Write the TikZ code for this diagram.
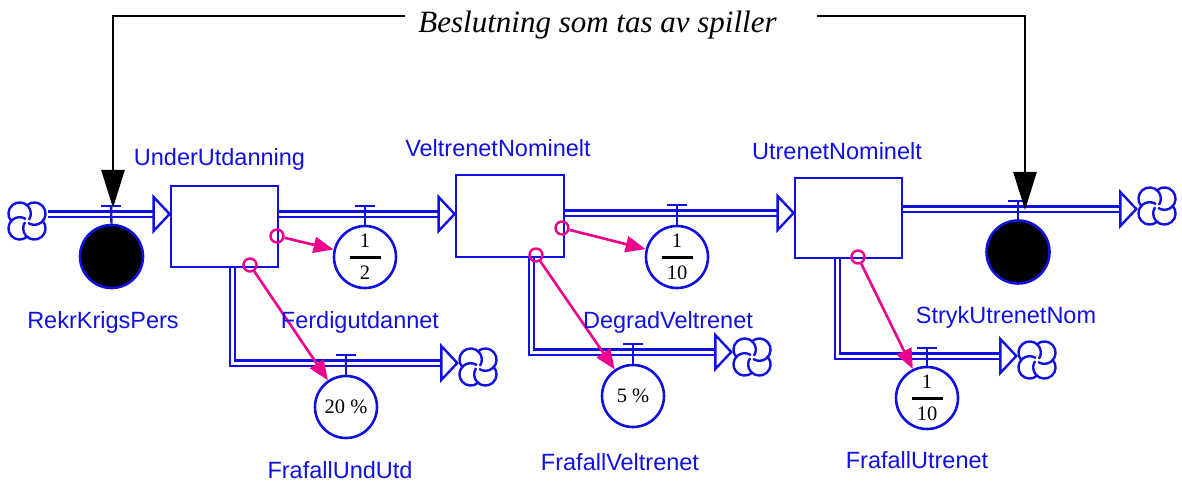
\documentclass[tikz,border=0pt]{standalone}
\usepackage{fontspec}
\setmainfont{Liberation Serif}
\setsansfont{Liberation Sans}
\usetikzlibrary{arrows.meta,calc}

\definecolor{flowblue}{RGB}{16,16,224}
\definecolor{linkpink}{RGB}{236,0,140}

% stacked fraction with a heavy bar, as used inside the auxiliaries
\newcommand{\fracstack}[2]{\vbox{\hbox to 31pt{\hss#1\hss}\kern8.5pt\hrule height 2.8pt\kern7pt\hbox to 31pt{\hss#2\hss}}}

\tikzset{
  % hollow arrow head at the end of a flow pipe, tip at the pic origin
  pipehead/.pic={\draw[draw=flowblue, line width=2.4pt, fill=white, line join=miter] (0,0) -- (-16,-17) -- (-16,17) -- cycle;},
  % source / sink cloud: four overlapping lobes in a pinwheel
  cloudnode/.style={rectangle, minimum size=41pt, inner sep=0pt,
    path picture={
      \foreach \a in {0,90,180,270}{
        \draw[flowblue, line width=2.4pt]
          ($(path picture bounding box.center)+({\a+225}:10.4)+({\a+139}:11.2)$)
          arc[start angle=\a+139, delta angle=255, radius=11.2];
      }
    }},
  stock/.style={rectangle, draw=flowblue, line width=2.8pt, inner sep=0pt},
  pipe/.style={draw=flowblue, double=white, double distance=3pt, line width=2.1pt, line join=miter},
  valvebar/.style={draw=flowblue, line width=2.4pt},
  aux/.style={circle, draw=flowblue, line width=2.6pt, minimum size=62pt, inner sep=0pt,
    font=\fontsize{20.5}{24}\selectfont},
  rate/.style={circle, draw=flowblue, fill=black, line width=2.6pt, minimum size=63pt, inner sep=0pt},
  tap/.style={circle, draw=linkpink, line width=2.4pt, minimum size=13pt, inner sep=0pt},
  link/.style={draw=linkpink, line width=2.6pt, -{Triangle[length=20pt,width=16pt]}},
  decision/.style={draw=black, line width=2.4pt, -{Triangle[length=38pt,width=23pt]}},
  lbl/.style={text=flowblue, font=\sffamily\fontsize{23.5}{28}\selectfont, anchor=base, inner sep=0pt},
}

\begin{document}
\begin{tikzpicture}[x=1pt,y=-1pt]
\useasboundingbox (0,0) rectangle (1182,481);

% ---- stocks
\node[stock, minimum width=107pt, minimum height=81pt] (s1) at (224.5,226.5) {};
\node[stock, minimum width=108pt, minimum height=82pt] (s2) at (510,216) {};
\node[stock, minimum width=107pt, minimum height=80pt] (s3) at (848.5,218) {};

% ---- clouds
\node[cloudnode] (k0)  at (27,221) {};
\node[cloudnode] (k1b) at (478,367) {};
\node[cloudnode] (k2b) at (752,357) {};
\node[cloudnode] (k3)  at (1157,206) {};
\node[cloudnode] (k3b) at (1037,360) {};

% ---- valve positions on the pipes
\coordinate (v0)  at (111,214);
\coordinate (v1)  at (365,214);
\coordinate (v1b) at (346,363);
\coordinate (v2)  at (677,213);
\coordinate (v2b) at (633,352);
\coordinate (v3)  at (1018,209);
\coordinate (v3b) at (927,356);

% ---- rates and auxiliaries under the valves
\node[rate] (r0) at (111.5,256.5) {};
\node[aux]  (c1) at (365,257) {\fracstack{1}{2}};
\node[aux]  (c1b) at (346,407) {20 \%};
\node[aux]  (c2) at (677,257) {\fracstack{1}{10}};
\node[aux]  (c2b) at (633,396) {5 \%};
\node[rate] (r3) at (1018,252) {};
\node[aux]  (c3b) at (927,398) {\fracstack{1}{10}};

% ---- pipes
\draw[pipe] (k0.east |- v0) -- ($(s1.west |- v0)+(-14,0)$);
\pic at (s1.west |- v0) {pipehead};
\draw[pipe] (s1.east |- v1) -- ($(s2.west |- v1)+(-14,0)$);
\pic at (s2.west |- v1) {pipehead};
\draw[pipe] (s2.east |- v2) -- ($(s3.west |- v2)+(-14,0)$);
\pic at (s3.west |- v2) {pipehead};
\draw[pipe] (s3.east |- v3) -- ($(k3.west |- v3)+(-14,0)$);
\pic at (k3.west |- v3) {pipehead};

\draw[pipe] ($(s1.south west)+(63,0)$) |- ($(k1b.west |- v1b)+(-14,0)$);
\pic at (k1b.west |- v1b) {pipehead};
\draw[pipe] ($(s2.south west)+(76.5,0)$) |- ($(k2b.west |- v2b)+(-14,0)$);
\pic at (k2b.west |- v2b) {pipehead};
\draw[pipe] ($(s3.south west)+(44,0)$) |- ($(k3b.west |- v3b)+(-14,0)$);
\pic at (k3b.west |- v3b) {pipehead};

% ---- valves
\foreach \v/\c in {v0/r0, v1/c1, v1b/c1b, v2/c2, v2b/c2b, v3/r3, v3b/c3b}{
  \draw[valvebar] ($(\v)+(-10,-8)$) -- ($(\v)+(10,-8)$);
  \draw[valvebar] ($(\v)+(0,-8)$) -- (\c.north);
}

% ---- information links
\node[tap] (t1)  at (277,236) {};
\node[tap] (t1b) at (250,265) {};
\node[tap] (t2)  at (562,228) {};
\node[tap] (t2b) at (536,255) {};
\node[tap] (t3b) at (858,257) {};
\draw[link] (t1) -- (c1);
\draw[link] (t1b) -- (c1b);
\draw[link] (t2) -- (c2);
\draw[link] (t2b) -- (c2b);
\draw[link] (t3b) -- (c3b);

% ---- labels
\node[lbl] (ls1)  at (219.5,166) {UnderUtdanning};
\node[lbl] (ls2)  at (498,157) {VeltrenetNominelt};
\node[lbl] (ls3)  at (837,160) {UtrenetNominelt};
\node[lbl] (lr0)  at (103,328) {RekrKrigsPers};
\node[lbl] (lc1)  at (360,328) {Ferdigutdannet};
\node[lbl] (lc2)  at (668,328) {DegradVeltrenet};
\node[lbl] (lr3)  at (1006,323) {StrykUtrenetNom};
\node[lbl] (lc1b) at (340,478) {FrafallUndUtd};
\node[lbl] (lc2b) at (620,470) {FrafallVeltrenet};
\node[lbl] (lc3b) at (917,468) {FrafallUtrenet};

% ---- player decision
\node[font=\itshape\fontsize{31}{36}\selectfont, anchor=base, inner sep=0pt] (title) at (597.5,33) {Beslutning som tas av spiller};
\coordinate (hl) at (405,16);
\coordinate (hr) at (817,16);
\coordinate (d0) at (113,208);
\coordinate (d3) at (1025,210);
\draw[decision] (hl) -| (d0);
\draw[decision] (hr) -| (d3);
\end{tikzpicture}
\end{document}
